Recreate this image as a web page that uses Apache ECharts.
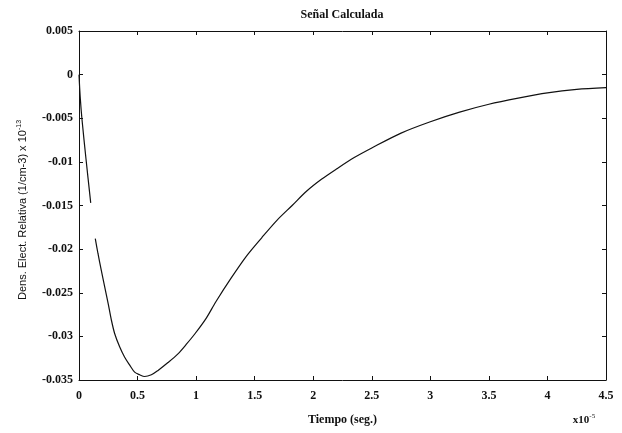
<!DOCTYPE html>
<html>
<head>
<meta charset="utf-8">
<script src="https://cdn.jsdelivr.net/npm/echarts@6/dist/echarts.min.js"></script>
<style>
  html, body { margin: 0; padding: 0; background: #fff; }
  #chart { width: 622px; height: 433px; }
</style>
</head>
<body>
<div id="chart"></div>
<script>
// tiempo en unidades de 1e-5 s, densidad en unidades de 1e-13
const tiempo = [0, 0.01, 0.026, 0.06, 0.10, 0.12, 0.139, 0.162, 0.19, 0.219, 0.25, 0.276, 0.305, 0.347, 0.39, 0.433, 0.475, 0.518, 0.56, 0.618, 0.675, 0.76, 0.845, 0.917, 0.99, 1.087, 1.17, 1.3, 1.43, 1.56, 1.69, 1.82, 1.94, 2.07, 2.2, 2.35, 2.5, 2.75, 3, 3.25, 3.5, 3.75, 4, 4.25, 4.5];
const densidad = [0, -0.0025, -0.0052, -0.0097, -0.0147, null, -0.0188, -0.0205, -0.0224, -0.0243, -0.0263, -0.0281, -0.0297, -0.0312, -0.0324, -0.0333, -0.0341, -0.0344, -0.0346, -0.0344, -0.0339, -0.0330, -0.0320, -0.0309, -0.0297, -0.0279, -0.0260, -0.0233, -0.0208, -0.0187, -0.0167, -0.0150, -0.0134, -0.0120, -0.0108, -0.0095, -0.0084, -0.0067, -0.0054, -0.0043, -0.0034, -0.0027, -0.0021, -0.0017, -0.0015];
const xTicks = ['0', '0.5', '1', '1.5', '2', '2.5', '3', '3.5', '4', '4.5'];
const yTicks = ['-0.035', '-0.03', '-0.025', '-0.02', '-0.015', '-0.01', '-0.005', '0', '0.005'];

let serie = tiempo.map((t, i) => [t, densidad[i] === null ? '-' : densidad[i]]);

let chart = echarts.init(document.getElementById('chart'), null, {renderer: 'canvas'});
let lineStyle = {color: '#111', width: 1};
let serif = 'Liberation Serif';

let ejeX = function(pos, labels){
    return {
        type: 'value', position: pos, min: 0, max: 4.5, interval: 0.5,
        axisLine: {show: true, onZero: false, lineStyle: lineStyle},
        axisTick: {show: true, inside: true, length: 4, lineStyle: lineStyle},
        splitLine: {show: false},
        axisLabel: {
            show: labels, margin: 10, color: '#111', fontFamily: serif, fontSize: 12, fontWeight: 'bold',
            formatter: (v) => xTicks[Math.round(v / 0.5)]
        }
    };
};
let ejeY = function(pos, labels){
    return {
        type: 'value', position: pos, min: -0.035, max: 0.005, interval: 0.005,
        axisLine: {show: true, onZero: false, lineStyle: lineStyle},
        axisTick: {show: true, inside: true, length: 4, lineStyle: lineStyle},
        splitLine: {show: false},
        axisLabel: {
            show: labels, margin: 6, color: '#111', fontFamily: serif, fontSize: 12, fontWeight: 'bold',
            formatter: (v) => yTicks[Math.round((v + 0.035) / 0.005)]
        }
    };
};

let bottomX = ejeX('bottom', true);
bottomX.name = 'Tiempo (seg.)';
bottomX.nameLocation = 'middle';
bottomX.nameGap = 34;
bottomX.nameTextStyle = {color: '#111', fontFamily: serif, fontSize: 12, fontWeight: 'bold'};

chart.setOption({
    animation: false,
    backgroundColor: '#fff',
    title: {
        text: 'Señal Calculada', left: 337, top: 4, textAlign: 'center',
        textStyle: {color: '#111', fontFamily: serif, fontSize: 12, fontWeight: 'bold'}
    },
    grid: {left: 79, right: 16, top: 31, bottom: 53},
    xAxis: [bottomX, ejeX('top', false)],
    yAxis: [ejeY('left', true), ejeY('right', false)],
    graphic: [
        {
            type: 'text', x: 23, y: 210, rotation: Math.PI / 2, originX: 0, originY: 0,
            style: {
                text: 'Dens. Elect. Relativa (1/cm-3) x 10{s|-13}',
                align: 'center', verticalAlign: 'middle',
                fill: '#111', font: '11px "Liberation Sans"',
                rich: {s: {fontSize: 7, verticalAlign: 'top', padding: [0, 0, 8, 0], fill: '#111', fontFamily: 'Liberation Sans'}}
            }
        },
        {
            type: 'text', x: 584, y: 420,
            style: {
                text: 'x10{s|-5}', align: 'center', verticalAlign: 'middle',
                fill: '#111', font: 'bold 11px "Liberation Serif"',
                rich: {s: {fontSize: 7, padding: [0, 0, 8, 0], fill: '#111', fontFamily: serif}}
            }
        }
    ],
    series: [{
        type: 'line', data: serie, xAxisIndex: 0, yAxisIndex: 0,
        showSymbol: false, smooth: 0.3, connectNulls: false,
        lineStyle: {color: '#111', width: 1.2}
    }]
});
</script>
</body>
</html>
